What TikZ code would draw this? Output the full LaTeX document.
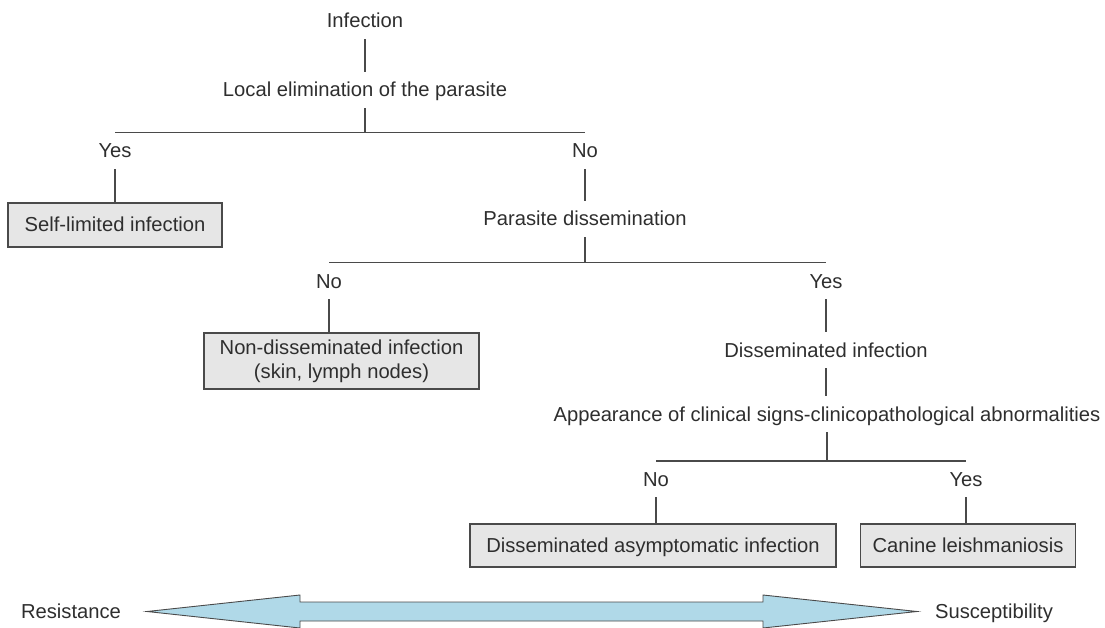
\documentclass[tikz,border=0pt]{standalone}
\usepackage{fontspec}
\setmainfont{Liberation Sans}
\usepackage{tikz}

\definecolor{txtgray}{HTML}{2E2E2E}
\definecolor{linegray}{HTML}{4A4A4A}
\definecolor{boxfill}{HTML}{E6E6E6}
\definecolor{arrowblue}{HTML}{B0D9E8}

\tikzset{
	lbl/.style={anchor=base, text=txtgray, text height=18pt, text depth=4pt, inner xsep=2pt, inner ysep=7pt, font=\fontsize{20.2}{24}\selectfont},
	outcome/.style={draw=linegray, line width=1.5pt, fill=boxfill, text=txtgray, align=center, inner xsep=12pt, text height=18pt, text depth=4pt, font=\fontsize{20.2}{24}\selectfont},
	branch/.style={draw=linegray, line width=1.4pt}
}

\begin{document}
\begin{tikzpicture}[x=1pt,y=-1pt]
	\useasboundingbox (0,0) rectangle (1105,628);
	\node[lbl] (inf) at (365,28) {Infection};
	\node[lbl] (loc) at (365,97) {Local elimination of the parasite};
	\node[lbl] (yes1) at (115,158) {Yes};
	\node[lbl] (no1) at (585,158) {No};
	\node[outcome, minimum width=214pt, minimum height=44pt] (self) at (115,225) {Self-limited infection};
	\node[lbl] (par) at (585,226) {Parasite dissemination};
	\node[lbl] (no2) at (329,288) {No};
	\node[lbl] (yes2) at (826,288) {Yes};
	\node[outcome, minimum width=275pt, minimum height=56pt, text height=, text depth=] (nondis) at (341.5,361) {Non-disseminated infection\\(skin, lymph nodes)};
	\node[lbl] (dis) at (826,357) {Disseminated infection};
	\node[lbl] (app) at (827,421) {Appearance of clinical signs-clinicopathological abnormalities};
	\node[lbl] (no3) at (656,486) {No};
	\node[lbl] (yes3) at (966,486) {Yes};
	\node[outcome, minimum width=366pt, minimum height=43pt] (asym) at (653,545.5) {Disseminated asymptomatic infection};
	\node[outcome, minimum width=214pt, minimum height=43pt] (canine) at (968,545.5) {Canine leishmaniosis};
	\node[lbl] (res) at (71,618) {Resistance};
	\node[lbl] (sus) at (994,618) {Susceptibility};

	\draw[branch] (inf) -- (loc);
	\draw[branch] (loc.south) -- (loc.south |- yes1.north);
	\draw[branch] (yes1.north) -- (no1.north);
	\draw[branch] (yes1.south) -- (yes1.south |- self.north);
	\draw[branch] (no1) -- (par);
	\draw[branch] (par.south) -- (par.south |- no2.north);
	\draw[branch] (no2.north) -- (yes2.north);
	\draw[branch] (no2.south) -- (no2.south |- nondis.north);
	\draw[branch] (yes2) -- (dis);
	\draw[branch] (dis.south) -- (dis.south |- app.north);
	\draw[branch] (app.south) -- (app.south |- no3.north);
	\draw[branch] (no3.north) -- (yes3.north);
	\draw[branch] (no3.south) -- (no3.south |- asym.north);
	\draw[branch] (yes3.south) -- (yes3.south |- canine.north);

	\filldraw[draw=linegray, fill=arrowblue, line width=0.9pt, line join=miter]
		(147,611.5) -- (300,595) -- (300,602) -- (763,602) -- (763,595) -- (917,611.5)
		-- (763,628) -- (763,621) -- (300,621) -- (300,628) -- cycle;
\end{tikzpicture}
\end{document}
